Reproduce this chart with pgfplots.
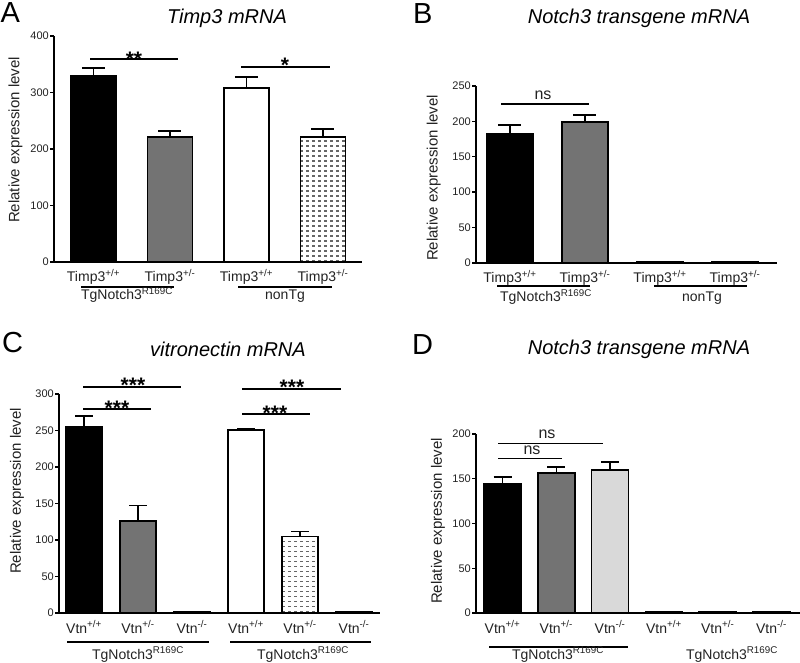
\documentclass[border=0pt]{standalone}
\usepackage{fontspec}
\setmainfont{Liberation Sans}
\usepackage{pgfplots}
\pgfplotsset{compat=1.18}
\usetikzlibrary{patterns}
\definecolor{midgray}{HTML}{737373}
\definecolor{lgray}{HTML}{D9D9D9}
\definecolor{txt}{HTML}{222222}
\newcommand{\fs}[1]{\fontsize{#1}{#1}\selectfont}
\pgfdeclarepatternformonly{hdash}{\pgfqpoint{-1pt}{-1pt}}{\pgfqpoint{7pt}{6pt}}{\pgfqpoint{6pt}{5pt}}{%
  \pgfpathrectangle{\pgfqpoint{0pt}{0pt}}{\pgfqpoint{3pt}{1.5pt}}\pgfusepath{fill}}
\pgfplotsset{
  panel/.style={
    scale only axis, anchor=south west,
    axis x line=bottom, axis y line=left,
    axis line style={-, line width=1.6pt, black},
    ymin=0, clip=false,
    xtick style={draw=none},
    ytick style={line width=1.4pt, black},
    major tick length=4pt, tick align=outside,
    /pgf/number format/assume math mode=true,
    yticklabel style={font=\fs{11}, inner sep=1pt, text=txt},
    xticklabel style={font=\fs{14}, anchor=base, yshift=-16pt, text=txt},
    ylabel={Relative expression level},
    ylabel style={font=\fs{15}, anchor=center, text=txt},
    ybar,
    error bars/y dir=plus, error bars/y explicit,
    error bars/error bar style={line width=1.6pt, black},
  },
  em/.style={error bars/error mark options={rotate=90, black, line width=1.6pt, mark size=#1}},
  b/.style={draw=black, line width=1.6pt, bar shift=0pt, fill=#1},
  bp/.style={draw=black, line width=1.6pt, bar shift=0pt, pattern=hdash, pattern color=black!60},
}
\begin{document}
\begin{tikzpicture}
\path[use as bounding box] (0pt,0pt) rectangle (800pt,662pt);

% ---------------- Panel A
\begin{axis}[panel, at={(54pt,400pt)}, width=308pt, height=226pt,
  xmin=0.484, xmax=4.51, ymax=400, ytick={0,100,200,300,400},
  xtick={1,2,3,4},
  xticklabels={Timp3\textsuperscript{+/+}, Timp3\textsuperscript{+/-}, Timp3\textsuperscript{+/+}, Timp3\textsuperscript{+/-}},
  bar width=0.59, em=11.5pt,
  ylabel style={at={(axis description cs:-0.125,0.54)}}]
\addplot[b=black] coordinates {(1,329) +- (0,14)};
\addplot[b=midgray] coordinates {(2,221) +- (0,11)};
\addplot[b=white] coordinates {(3,308) +- (0,19)};
\addplot[bp] coordinates {(4,221) +- (0,14)};
\end{axis}
\node[anchor=base west, inner sep=0, font=\fs{29}] at (0.5pt,639pt) {A};
\node[anchor=base, inner sep=0, font=\fs{20}\itshape] at (227pt,638.7pt) {Timp3 mRNA};
\draw[line width=1.6pt] (90pt,603pt) -- (178pt,603pt);
\node[anchor=base, inner sep=0, font=\fs{21}\bfseries] at (134pt,595.5pt) {**};
\draw[line width=1.6pt] (241pt,595pt) -- (330pt,595pt);
\node[anchor=base, inner sep=0, font=\fs{21}\bfseries] at (285pt,589.5pt) {*};
\draw[line width=1.6pt] (81pt,375pt) -- (174pt,375pt);
\draw[line width=1.6pt] (238pt,375pt) -- (332pt,375pt);
\node[anchor=base, inner sep=0, font=\fs{14}, text=txt] at (127pt,362pt) {TgNotch3\textsuperscript{R169C}};
\node[anchor=base, inner sep=0, font=\fs{14}, text=txt] at (285pt,362pt) {nonTg};

% ---------------- Panel B
\begin{axis}[panel, at={(476pt,399pt)}, width=301pt, height=177pt,
  xmin=0.547, xmax=4.56, ymax=250, ytick={0,50,100,150,200,250},
  xtick={1,2,3,4},
  xticklabels={Timp3\textsuperscript{+/+}, Timp3\textsuperscript{+/-}, Timp3\textsuperscript{+/+}, Timp3\textsuperscript{+/-}},
  bar width=0.61, em=11.5pt,
  ylabel style={at={(axis description cs:-0.14,0.48)}}]
\addplot[b=black] coordinates {(1,183) +- (0,12)};
\addplot[b=midgray] coordinates {(2,199) +- (0,10)};
\addplot[b=white] coordinates {(3,1.2)};
\addplot[b=white] coordinates {(4,1.0)};
\end{axis}
\node[anchor=base west, inner sep=0, font=\fs{29}] at (413pt,638pt) {B};
\node[anchor=base, inner sep=0, font=\fs{20}\itshape] at (639pt,638.7pt) {Notch3 transgene mRNA};
\draw[line width=1.6pt] (501pt,558pt) -- (589pt,558pt);
\node[anchor=base, inner sep=0, font=\fs{16}, text=txt] at (543pt,562pt) {ns};
\draw[line width=1.6pt] (497pt,376pt) -- (590pt,376pt);
\draw[line width=1.6pt] (654pt,376pt) -- (747pt,376pt);
\node[anchor=base, inner sep=0, font=\fs{14}, text=txt] at (546pt,360pt) {TgNotch3\textsuperscript{R169C}};
\node[anchor=base, inner sep=0, font=\fs{14}, text=txt] at (702pt,360pt) {nonTg};

% ---------------- Panel C
\begin{axis}[panel, at={(59pt,49pt)}, width=321pt, height=219pt,
  xmin=0.537, xmax=6.48, ymax=300, ytick={0,50,100,150,200,250,300},
  xtick={1,2,3,4,5,6},
  xticklabels={Vtn\textsuperscript{+/+}, Vtn\textsuperscript{+/-}, Vtn\textsuperscript{-/-}, Vtn\textsuperscript{+/+}, Vtn\textsuperscript{+/-}, Vtn\textsuperscript{-/-}},
  bar width=0.667, em=9pt,
  ylabel style={at={(axis description cs:-0.131,0.557)}}]
\addplot[b=black] coordinates {(1,255) +- (0,15)};
\addplot[b=midgray] coordinates {(2,126) +- (0,21)};
\addplot[b=black] coordinates {(3,1.5)};
\addplot[b=white] coordinates {(4,251) +- (0,2)};
\addplot[bp] coordinates {(5,105) +- (0,6.5)};
\addplot[b=black] coordinates {(6,2)};
\end{axis}
\node[anchor=base west, inner sep=0, font=\fs{29}] at (2pt,309pt) {C};
\node[anchor=base, inner sep=0, font=\fs{20}\itshape] at (228pt,305.3pt) {vitronectin mRNA};
\draw[line width=1.6pt] (83pt,275.3pt) -- (181pt,275.3pt);
\draw[line width=1.6pt] (83pt,253pt) -- (151pt,253pt);
\draw[line width=1.6pt] (242pt,273pt) -- (341pt,273pt);
\draw[line width=1.6pt] (242pt,248pt) -- (310pt,248pt);
\node[anchor=base, inner sep=0, font=\fs{21}\bfseries] at (133pt,269.5pt) {***};
\node[anchor=base, inner sep=0, font=\fs{21}\bfseries] at (117pt,246.5pt) {***};
\node[anchor=base, inner sep=0, font=\fs{21}\bfseries] at (292pt,267.5pt) {***};
\node[anchor=base, inner sep=0, font=\fs{21}\bfseries] at (275pt,241.5pt) {***};
\draw[line width=1.6pt] (67pt,20pt) -- (209pt,20pt);
\draw[line width=1.6pt] (230pt,20pt) -- (371pt,20pt);
\node[anchor=base, inner sep=0, font=\fs{14}, text=txt] at (138pt,3pt) {TgNotch3\textsuperscript{R169C}};
\node[anchor=base, inner sep=0, font=\fs{14}, text=txt] at (303pt,3pt) {TgNotch3\textsuperscript{R169C}};

% ---------------- Panel D
\begin{axis}[panel, at={(476pt,49pt)}, width=324pt, height=179pt,
  xmin=0.507, xmax=6.53, ymax=200, ytick={0,50,100,150,200},
  xtick={1,2,3,4,5,6},
  xticklabels={Vtn\textsuperscript{+/+}, Vtn\textsuperscript{+/-}, Vtn\textsuperscript{-/-}, Vtn\textsuperscript{+/+}, Vtn\textsuperscript{+/-}, Vtn\textsuperscript{-/-}},
  bar width=0.69, em=9pt,
  ylabel style={at={(axis description cs:-0.117,0.514)}}]
\addplot[b=black] coordinates {(1,144.5) +- (0,7.5)};
\addplot[b=midgray] coordinates {(2,156.5) +- (0,6.5)};
\addplot[b=lgray] coordinates {(3,159.5) +- (0,9.5)};
\addplot[b=black] coordinates {(4,1.5)};
\addplot[b=black] coordinates {(5,1.5)};
\addplot[b=black] coordinates {(6,1.5)};
\end{axis}
\node[anchor=base west, inner sep=0, font=\fs{29}] at (412pt,307pt) {D};
\node[anchor=base, inner sep=0, font=\fs{20}\itshape] at (639pt,308pt) {Notch3 transgene mRNA};
\draw[line width=1.6pt] (498pt,218.7pt) -- (603pt,218.7pt);
\draw[line width=1.6pt] (498pt,203.7pt) -- (562pt,203.7pt);
\node[anchor=base, inner sep=0, font=\fs{16}, text=txt] at (547pt,224pt) {ns};
\node[anchor=base, inner sep=0, font=\fs{16}, text=txt] at (532pt,207.5pt) {ns};
\draw[line width=1.6pt] (489pt,15pt) -- (628pt,15pt);
\node[anchor=base, inner sep=0, font=\fs{14}, text=txt] at (558pt,3pt) {TgNotch3\textsuperscript{R169C}};
\node[anchor=base, inner sep=0, font=\fs{14}, text=txt] at (732pt,3pt) {TgNotch3\textsuperscript{R169C}};
\end{tikzpicture}
\end{document}
